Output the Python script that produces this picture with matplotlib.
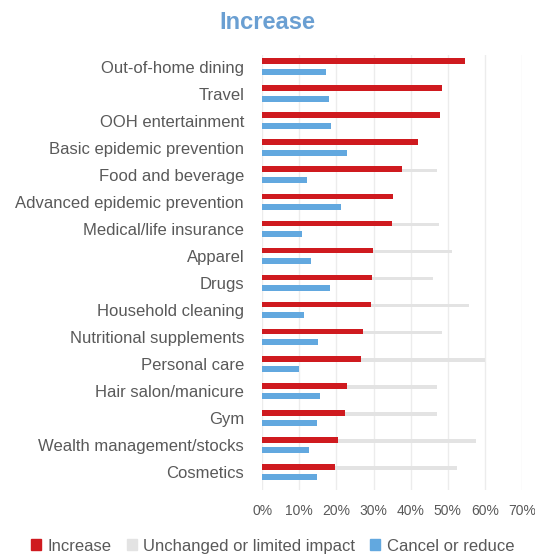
import matplotlib
matplotlib.use("Agg")
import matplotlib.pyplot as plt
import numpy as np
from matplotlib.patches import Patch

plt.rcParams["font.family"] = ["Liberation Sans", "DejaVu Sans"]

categories = [
    "Out-of-home dining", "Travel", "OOH entertainment", "Basic epidemic prevention",
    "Food and beverage", "Advanced epidemic prevention", "Medical/life insurance",
    "Apparel", "Drugs", "Household cleaning", "Nutritional supplements",
    "Personal care", "Hair salon/manicure", "Gym", "Wealth management/stocks",
    "Cosmetics",
]
increase = [54.5, 48.4, 47.9, 42.0, 37.7, 35.3, 34.9, 29.9, 29.7, 29.2, 27.2,
            26.6, 22.9, 22.2, 20.4, 19.5]
unchanged = [26.0, 31.0, 31.0, 32.0, 47.0, 34.0, 47.7, 51.0, 46.1, 55.8, 48.4,
             60.1, 47.0, 47.2, 57.6, 52.4]
cancel = [17.3, 17.9, 18.6, 22.9, 12.0, 21.3, 10.7, 13.2, 18.4, 11.2, 15.0,
          9.8, 15.5, 14.9, 12.6, 14.9]

RED = "#cf1a1f"
GREY = "#e3e3e3"
BLUE = "#62a8df"
TEXT = "#595959"

fig = plt.figure(figsize=(5.35, 5.55), dpi=100)
ax = fig.add_axes([0.49, 0.117, 0.486, 0.784])

y = np.arange(len(categories))
# grey sits behind the red bar, so it only shows where it runs past the red
ax.barh(y - 0.15, unchanged, height=0.14, color=GREY, zorder=2)
ax.barh(y - 0.19, increase, height=0.22, color=RED, zorder=3)
ax.barh(y + 0.19, cancel, height=0.22, color=BLUE, zorder=3)

ax.set_xlim(0, 70)
ax.set_ylim(15.68, -0.43)
ax.set_xticks(range(0, 71, 10))
ax.set_xticklabels([f"{v}%" for v in range(0, 71, 10)])
ax.set_yticks(y)
ax.set_yticklabels(categories)
ax.tick_params(axis="y", length=0, pad=13, labelsize=12, labelcolor=TEXT)
ax.tick_params(axis="x", length=0, pad=10, labelsize=10, labelcolor=TEXT)
ax.grid(axis="x", color="#ececec", linewidth=1, zorder=0)
for s in ax.spines.values():
    s.set_visible(False)

fig.text(0.5, 0.96, "Increase", ha="center", va="center", fontsize=17,
         fontweight="bold", color="#6a9fd2")

handles = [Patch(color=RED, label="Increase"),
           Patch(color=GREY, label="Unchanged or limited impact"),
           Patch(color=BLUE, label="Cancel or reduce")]
fig.legend(handles=handles, loc="center", bbox_to_anchor=(0.51, 0.016), ncol=3,
           frameon=False, fontsize=12, labelcolor=TEXT, handlelength=0.6,
           handleheight=0.6, handletextpad=0.4, columnspacing=0.9)

fig.savefig("out.png", dpi=100)
